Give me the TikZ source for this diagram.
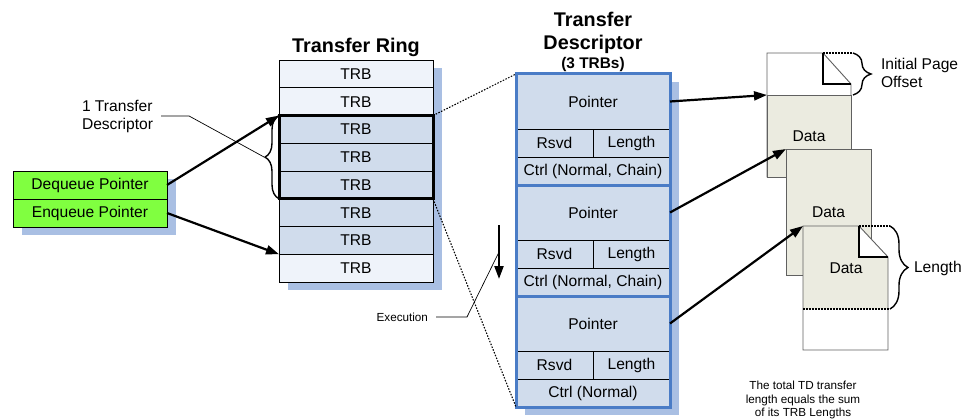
\documentclass[tikz,border=0pt]{standalone}
\usepackage{fontspec}
\setmainfont{Liberation Sans}
\usetikzlibrary{positioning, shadows, arrows.meta, decorations.pathreplacing}
\definecolor{trblight}{HTML}{EFF3FA}
\definecolor{trbblue}{HTML}{D0DCEC}
\definecolor{shadowblue}{HTML}{A9BFE3}
\definecolor{ptrgreen}{HTML}{80FF40}
\definecolor{tdblue}{HTML}{4A7CC6}
\definecolor{databeige}{HTML}{EBEBE0}
\definecolor{pagegray}{HTML}{606060}

\begin{document}
\begin{tikzpicture}[x=1pt, y=-1pt, >={Triangle[length=13pt,width=9pt]},
  every node/.style={inner sep=0pt, outer sep=0pt, font=\fontsize{15.6}{18}\selectfont},
  box/.style={draw, line width=1pt, drop shadow={shadow xshift=9pt, shadow yshift=-8pt, fill=shadowblue, opacity=1}},
  ringrow/.style={box, fill=trbblue, minimum width=154pt, minimum height=27.75pt},
  ptrbox/.style={box, fill=ptrgreen, minimum width=154pt, minimum height=28pt},
  ptrcell/.style={box, fill=trbblue, minimum width=154pt, minimum height=55pt},
  halfcell/.style={box, fill=trbblue, minimum width=77pt, minimum height=28pt},
  ctrlcell/.style={box, fill=trbblue, minimum width=154pt, minimum height=28pt},
  tdframe/.style={draw=tdblue, line width=3pt},
  title/.style={font=\bfseries\fontsize{19.8}{23}\selectfont, align=center},
  small/.style={font=\fontsize{11.7}{13.5}\selectfont, align=center},
  pointer/.style={->, line width=2.2pt},
  leader/.style={line width=0.7pt},
  dots/.style={dash pattern=on 1.5pt off 1.5pt, line width=1.1pt},
  bracket/.style={line width=1.4pt, decorate, decoration={brace, amplitude=#1}},
  page/.style={draw=pagegray, line width=0.9pt},
  datapage/.style={page, fill=databeige, minimum width=85pt},
  fold/.style={line width=1.5pt}]
  \useasboundingbox (0,0) rectangle (967,420);

  \node[ptrbox] (deq) at (90,185) {Dequeue Pointer};
  \node[ptrbox, below=0pt of deq] (enq) {Enqueue Pointer};

  \node[ringrow, fill=trblight] (trb1) at (356,73.9) {TRB};
  \node[ringrow, fill=trblight, below=0pt of trb1] (trb2) {TRB};
  \node[ringrow, below=0pt of trb2] (trb3) {TRB};
  \node[ringrow, below=0pt of trb3] (trb4) {TRB};
  \node[ringrow, below=0pt of trb4] (trb5) {TRB};
  \node[ringrow, below=0pt of trb5] (trb6) {TRB};
  \node[ringrow, below=0pt of trb6] (trb7) {TRB};
  \node[ringrow, fill=trblight, below=0pt of trb7] (trb8) {TRB};
  \node[title, above=3pt of trb1] (ringtitle) {Transfer Ring};
  \draw[line width=3pt] (trb3.north west) rectangle (trb5.south east);
  \draw[bracket=14pt] (trb5.south west) -- (trb3.north west);
  \coordinate (bracetip) at (264,157);
  \node[align=left, anchor=west] (tdnote) at (82,116) {1 Transfer\\Descriptor};
  \draw[leader] (tdnote.east) ++(8,0) -- ++(28,0) -- (bracetip);

  \node[ptrcell] (tdp1) at (593,101.5) {Pointer};
  \node[halfcell, below right=0pt of tdp1.south west] (rsvd1) {Rsvd};
  \node[halfcell, right=0pt of rsvd1] (len1) {Length};
  \node[ctrlcell, below right=0pt of rsvd1.south west] (ctrl1) {Ctrl (Normal, Chain)};
  \node[ptrcell, below=0pt of ctrl1] (tdp2) {Pointer};
  \node[halfcell, below right=0pt of tdp2.south west] (rsvd2) {Rsvd};
  \node[halfcell, right=0pt of rsvd2] (len2) {Length};
  \node[ctrlcell, below right=0pt of rsvd2.south west] (ctrl2) {Ctrl (Normal, Chain)};
  \node[ptrcell, below=0pt of ctrl2] (tdp3) {Pointer};
  \node[halfcell, below right=0pt of tdp3.south west] (rsvd3) {Rsvd};
  \node[halfcell, right=0pt of rsvd3] (len3) {Length};
  \node[ctrlcell, below right=0pt of rsvd3.south west] (ctrl3) {Ctrl (Normal)};
  \draw[tdframe] (tdp1.north west) rectangle (ctrl1.south east);
  \draw[tdframe] (tdp2.north west) rectangle (ctrl2.south east);
  \draw[tdframe] (tdp3.north west) rectangle (ctrl3.south east);
  \node[font=\bfseries\fontsize{15.4}{17}\selectfont, above=2pt of tdp1] (tdsub) {(3 TRBs)};
  \node[title, above=4pt of tdsub] (tdtitle) {Transfer\\Descriptor};

  \draw[dots] (trb3.north east) -- (tdp1.north west);
  \draw[dots] (trb5.south east) -- (ctrl3.south west);

  \coordinate (exstart) at (499,225);
  \coordinate (exend) at (499,279);
  \coordinate (exmid) at (499,252);
  \draw[pointer] (exstart) -- (exend);
  \node[small, anchor=east] (exec) at (428,317) {Execution};
  \draw[leader] (exec.east) ++(8,0) -- ++(31,0) -- (exmid);

  \filldraw[page, fill=white] (767,53) -- (823,53) -- (851,84) -- (851,177) -- (767,177) -- cycle;
  \node[datapage, minimum height=82pt, minimum width=84pt] (data1) at (809,136) {Data};
  \draw[fold] (823,53) |- (851,84);
  \draw[dots] (823,53) -- (853,53);
  \draw[bracket=18pt] (853,53) -- (853,95);
  \node[align=left, anchor=west] (offset) at (881,73) {Initial Page\\Offset};

  \node[datapage, minimum height=126pt] (data2) at (828.5,212) {Data};

  \coordinate (pg3) at (803,226);
  \fill[white] (pg3) -- (859,226) -- (888,257) -- (888,350) -- (803,350) -- cycle;
  \fill[databeige] (pg3) -- (859,226) -- (859,257) -- (888,257) -- (888,309) -- (803,309) -- cycle;
  \draw[page] (pg3) -- (859,226) -- (888,257) -- (888,350) -- (803,350) -- cycle;
  \draw[fold] (859,226) |- (888,257);
  \draw[dots] (859,226) -- (890,226);
  \draw[dots] (803,309) -- (890,309);
  \node (data3) at (846,268) {Data};
  \draw[bracket=18pt] (890,226) -- (890,309);
  \node[anchor=west] (lenlabel) at (914,268) {Length};

  \node[small] (total) at (803,400) {The total TD transfer\\length equals the sum\\of its TRB Lengths};

  \draw[pointer] (deq.east) -- (trb3.north west);
  \draw[pointer] (enq.east) -- (trb8.north west);
  \draw[pointer] (tdp1.east) -- (data1.north west);
  \draw[pointer] (tdp2.east) -- (data2.north west);
  \draw[pointer] (tdp3.east) -- (pg3);
\end{tikzpicture}
\end{document}
